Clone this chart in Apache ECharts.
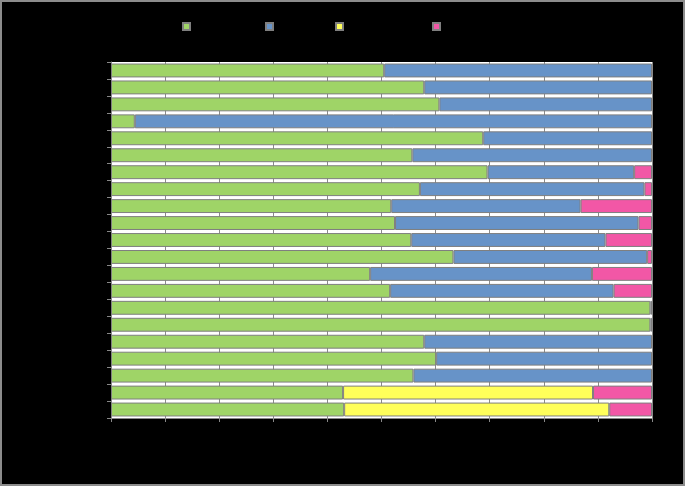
<!DOCTYPE html>
<html>
<head>
<meta charset="utf-8">
<script src="https://cdn.jsdelivr.net/npm/echarts@6/dist/echarts.min.js"></script>
<style>
html,body{margin:0;padding:0;background:#000;}
#wrap{width:685px;height:486px;box-sizing:border-box;border:2px solid #8c8c8c;background:#000;}
#chart{width:681px;height:482px;}
</style>
</head>
<body>
<div id="wrap"><div id="chart"></div></div>
<script>
const categories = ['Category 1','Category 2','Category 3','Category 4','Category 5','Category 6','Category 7',
  'Category 8','Category 9','Category 10','Category 11','Category 12','Category 13','Category 14',
  'Category 15','Category 16','Category 17','Category 18','Category 19','Category 20','Category 21'];
const seriesNames = ['Series A','Series B','Series C','Series D'];
const greenValues  = [50.5, 57.9, 60.7, 4.4, 68.8, 55.7, 69.6, 57.1, 51.8, 52.5, 55.5, 63.3, 47.9, 51.6, 99.7, 99.7, 57.9, 60.1, 55.9, 42.9, 43.1];
const blueValues   = [49.5, 42.1, 39.3, 95.6, 31.2, 44.3, 27.1, 41.5, 35.0, 45.0, 35.9, 35.8, 41.0, 41.3, 0.3, 0.3, 42.1, 39.9, 44.1, null, null];
const yellowValues = [null, null, null, null, null, null, null, null, null, null, null, null, null, null, null, null, null, null, null, 46.2, 49.0];
const pinkValues   = [null, null, null, null, null, null, 3.3, 1.4, 13.2, 2.5, 8.6, 0.9, 11.1, 7.1, null, null, null, null, null, 10.9, 7.9];
const xTicks = ['0%','10%','20%','30%','40%','50%','60%','70%','80%','90%','100%'];
const colors = ['#9FD467', '#6793C8', '#FFFF5A', '#F257A6'];

const chart = echarts.init(document.getElementById('chart'));
const dataSets = [greenValues, blueValues, yellowValues, pinkValues];
const legendLefts = [175, 258, 328, 425];
const option = {
  backgroundColor: '#000',
  animation: false,
  legend: seriesNames.map((n, i) => ({
    data: [n], left: legendLefts[i], top: 14, itemWidth: 7, itemHeight: 7,
    icon: 'rect', itemGap: 5,
    textStyle: { color: '#000', fontSize: 11, fontFamily: 'Liberation Sans' }
  })),
  grid: { left: 109, right: 31, top: 60, bottom: 66, show: true, backgroundColor: '#fff', borderWidth: 0 },
  xAxis: {
    type: 'value', min: 0, max: 100, interval: 10,
    axisLine: { show: true, lineStyle: { color: '#888', width: 1 } },
    axisTick: { show: true, length: 4, lineStyle: { color: '#888' } },
    splitLine: { show: true, lineStyle: { color: '#8a8a8a', width: 1 } },
    axisLabel: { color: '#000', fontSize: 11, fontFamily: 'Liberation Sans',
      formatter: v => xTicks[Math.round(v / 10)] }
  },
  yAxis: {
    type: 'category', data: categories, inverse: true,
    axisLine: { show: true, lineStyle: { color: '#888', width: 1 } },
    axisTick: { show: true, length: 4, alignWithLabel: false, lineStyle: { color: '#888' } },
    axisLabel: { color: '#000', fontSize: 11, fontFamily: 'Liberation Sans' }
  },
  series: dataSets.map((d, i) => ({
    name: seriesNames[i], type: 'bar', stack: 'total', data: d,
    barCategoryGap: '18%',
    itemStyle: { color: colors[i], borderColor: '#7f7f7f', borderWidth: 1 }
  }))
};
chart.setOption(option);
</script>
</body>
</html>
